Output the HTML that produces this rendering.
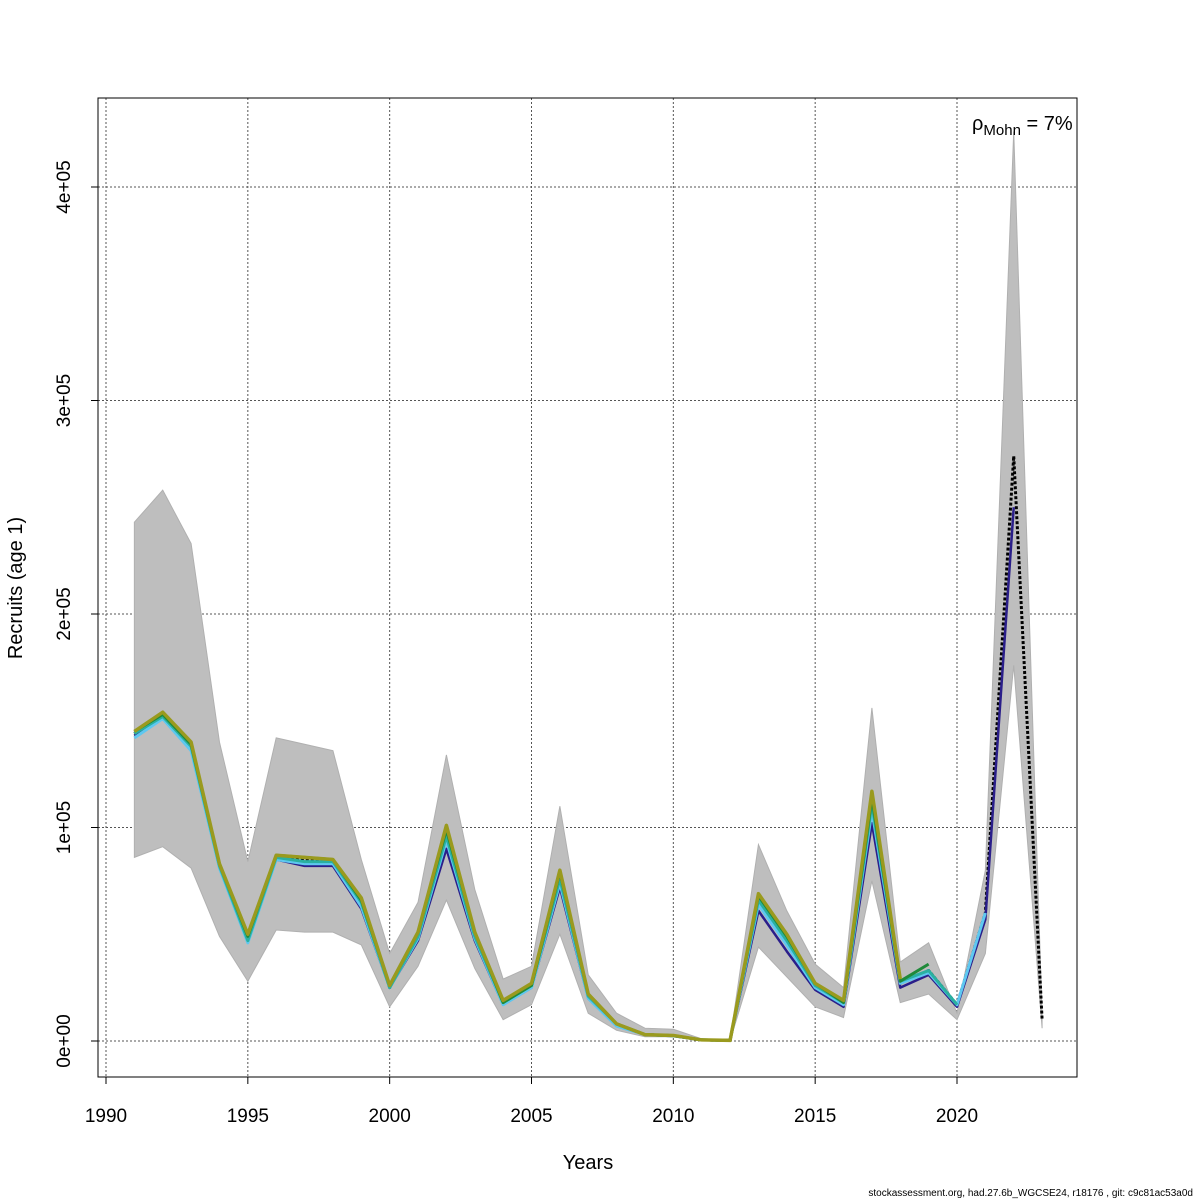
<!DOCTYPE html>
<html><head><meta charset="utf-8"><style>
body{margin:0;background:#fff;}
svg{display:block;font-family:"Liberation Sans",sans-serif;}
</style></head><body>
<svg id="chart" width="1200" height="1200" viewBox="0 0 1200 1200" xmlns="http://www.w3.org/2000/svg">
<rect width="1200" height="1200" fill="#fff"/>
<g id="grid"></g>
<g id="band"></g>
<g id="lines"></g>
<rect x="98" y="98" width="979" height="979" fill="none" stroke="#000" stroke-width="1"/>
<g id="axes"></g>
<text x="588" y="1169" font-size="20" text-anchor="middle">Years</text>
<text transform="translate(22,588) rotate(-90)" font-size="20" text-anchor="middle">Recruits (age 1)</text>
<text x="972" y="130" font-size="20">ρ<tspan font-size="15" dy="5">Mohn</tspan><tspan dy="-5"> = 7%</tspan></text>
<text x="1193" y="1196" font-size="10" text-anchor="end">stockassessment.org, had.27.6b_WGCSE24, r18176 , git: c9c81ac53a0d</text>
</svg>
<script>
const years=[1991,1992,1993,1994,1995,1996,1997,1998,1999,2000,2001,2002,2003,2004,2005,2006,2007,2008,2009,2010,2011,2012,2013,2014,2015,2016,2017,2018,2019,2020,2021,2022,2023];
const est=[144,153,139,82,49,86,85,84,66,25,50,100,50,18,26,79,21,8,3,2.5,0.5,0.3,68,50,26,18,115,27,33,17,60,274,10];
const lower=[86,91,81,49,28,52,51,51,45,16,35,66,34,10,17,50,13,5,2,2,0.3,0.1,44,30,16,11,75,18,22,10,41,176,6];
const upper=[243,258,233,140,84,142,139,136,85,41,65,134,71,29,35,110,31,13,6,5.5,1,0.5,92,61,36,25,156,37,46,13,80,426,12];
const retroNavy=[143,152,137,81,47,85,82,82,62,25,47,90,47,17,25,72,20,7,3,2.3,0.5,0.3,61,42,24,16,102,25,31,16,57,250];
const retroLightBlue=[142,151,136,81,46,85,83,83,63,25,48,94,48,17,25,74,20,7,3,2.4,0.5,0.3,64,45,25,17,108,27,32,17,60];
const retroTeal=[144,152,138,82,47,86,84,84,65,25,49,96,49,18,26,76,21,8,3,2.5,0.5,0.3,66,47,26,18,111,28,33,17];
const retroGreen=[145,153,139,83,49,87,86,85,66,26,51,99,51,18,26,79,22,8,3,2.5,0.5,0.3,68,49,27,18,114,28,36];
const retroOlive=[145,154,140,83,50,87,86,85,67,26,51,101,51,19,27,80,22,8,3,2.6,0.5,0.3,69,50,27,19,117,29];
const xTicks=[1990,1995,2000,2005,2010,2015,2020];
const yTicks=[0,100,200,300,400];
const yTickLabels=["0e+00","1e+05","2e+05","3e+05","4e+05"];

const NS="http://www.w3.org/2000/svg";
const xs=y=>106+(y-1990)*(957-106)/30;
const ys=v=>1041-v*2.135;
function mk(tag,attrs,parent){const e=document.createElementNS(NS,tag);for(const k in attrs)e.setAttribute(k,attrs[k]);parent.appendChild(e);return e;}
const grid=document.getElementById('grid'),band=document.getElementById('band'),lines=document.getElementById('lines'),axes=document.getElementById('axes');

xTicks.forEach(t=>{
 const l=mk('line',{x1:xs(t),x2:xs(t),y1:98,y2:1077,stroke:'#555','stroke-dasharray':'2,2','stroke-width':1},grid);
 
 
 const tk=mk('line',{x1:xs(t),x2:xs(t),y1:1077,y2:1084,stroke:'#000'},axes);
 
 
 const tx=mk('text',{x:xs(t),y:1122,'font-size':19,'text-anchor':'middle'},axes);
 tx.textContent=t;
 
 
});
yTicks.forEach((t,i)=>{
 const l=mk('line',{x1:98,x2:1077,y1:ys(t),y2:ys(t),stroke:'#555','stroke-dasharray':'2,2','stroke-width':1},grid);
 
 
 const tk=mk('line',{x1:91,x2:98,y1:ys(t),y2:ys(t),stroke:'#000'},axes);
 
 
 const tx=mk('text',{transform:`translate(70,${ys(t)}) rotate(-90)`,'font-size':19,'text-anchor':'middle'},axes);
 tx.textContent=yTickLabels[i];
 
 
});

let pts=years.map((y,i)=>xs(y)+','+ys(upper[i]));
for(let i=years.length-1;i>=0;i--)pts.push(xs(years[i])+','+ys(lower[i]));
const poly=mk('polygon',{points:pts.join(' '),fill:'#bebebe',stroke:'#b0b0b0','stroke-width':1},band);



function line(arr,color,w,name,dash){
 const p=mk('polyline',{points:arr.map((v,i)=>xs(years[i])+','+ys(v)).join(' '),fill:'none',stroke:color,'stroke-width':w,'stroke-linejoin':'round'},lines);
 if(dash)p.setAttribute('stroke-dasharray',dash);
 
 
}
line(est,'#000000',3,'estimate-line','3,2');
line(retroNavy,'#2a1e8a',2.5,'retro-2022');
line(retroLightBlue,'#5ec8f0',3,'retro-2021');
line(retroTeal,'#2ab0a0',3,'retro-2020');
line(retroGreen,'#1f8a3a',3,'retro-2019');
line(retroOlive,'#9a9a1e',3.5,'retro-2018');
</script>
</body></html>
